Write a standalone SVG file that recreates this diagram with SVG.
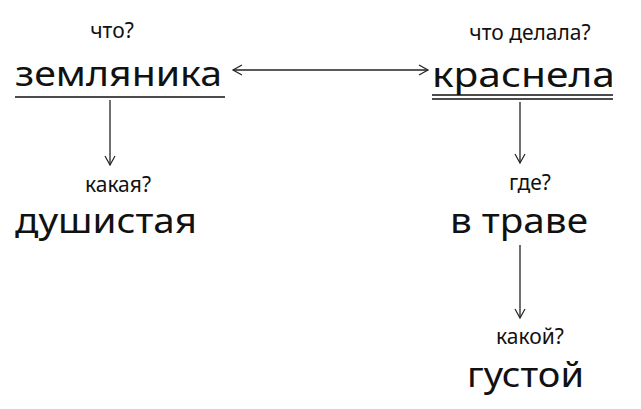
<svg xmlns="http://www.w3.org/2000/svg" width="641" height="409" viewBox="0 0 641 409">
<style>
.q{font-family:"Noto Sans","Open Sans",sans-serif;font-size:21px;fill:#111;text-anchor:middle}
.w{font-family:"Noto Sans","Open Sans",sans-serif;font-size:35px;fill:#111}
.c{stroke:#222;stroke-width:1.3;fill:none}
</style>
<defs><marker id="a" markerWidth="12" markerHeight="12" refX="10" refY="6" orient="auto-start-reverse" markerUnits="userSpaceOnUse"><path d="M1,1 L10,6 L1,11" fill="none" stroke="#222" stroke-width="1.2"/></marker></defs>
<rect width="641" height="409" fill="#fff"/>
<g id="n1"><text class="q" x="112" y="38">что?</text><text class="w" x="15" y="86" textLength="207" lengthAdjust="spacingAndGlyphs">земляника</text><line x1="15" y1="97" x2="225" y2="97" stroke="#111" stroke-width="1.5"/></g>
<g id="n2"><text class="q" x="530" y="40">что делала?</text><text class="w" x="432" y="87" textLength="183" lengthAdjust="spacingAndGlyphs">краснела</text><line x1="432" y1="95" x2="613" y2="95" stroke="#111" stroke-width="1.5"/><line x1="432" y1="99" x2="613" y2="99" stroke="#111" stroke-width="1.5"/></g>
<g id="n3"><text class="q" x="118" y="192">какая?</text><text class="w" x="15" y="233" textLength="182" lengthAdjust="spacingAndGlyphs">душистая</text></g>
<g id="n4"><text class="q" x="530" y="190">где?</text><text class="w" x="450" y="233" textLength="138" lengthAdjust="spacingAndGlyphs">в траве</text></g>
<g id="n5"><text class="q" x="530" y="344">какой?</text><text class="w" x="467" y="387" textLength="117" lengthAdjust="spacingAndGlyphs">густой</text></g>
<g id="connectors">
<line class="c" x1="233" y1="70" x2="428" y2="70" marker-start="url(#a)" marker-end="url(#a)"/>
<line class="c" x1="110" y1="100" x2="110" y2="165" marker-end="url(#a)"/>
<line class="c" x1="520" y1="102" x2="520" y2="163" marker-end="url(#a)"/>
<line class="c" x1="520" y1="245" x2="520" y2="318" marker-end="url(#a)"/>
</g>
</svg>
